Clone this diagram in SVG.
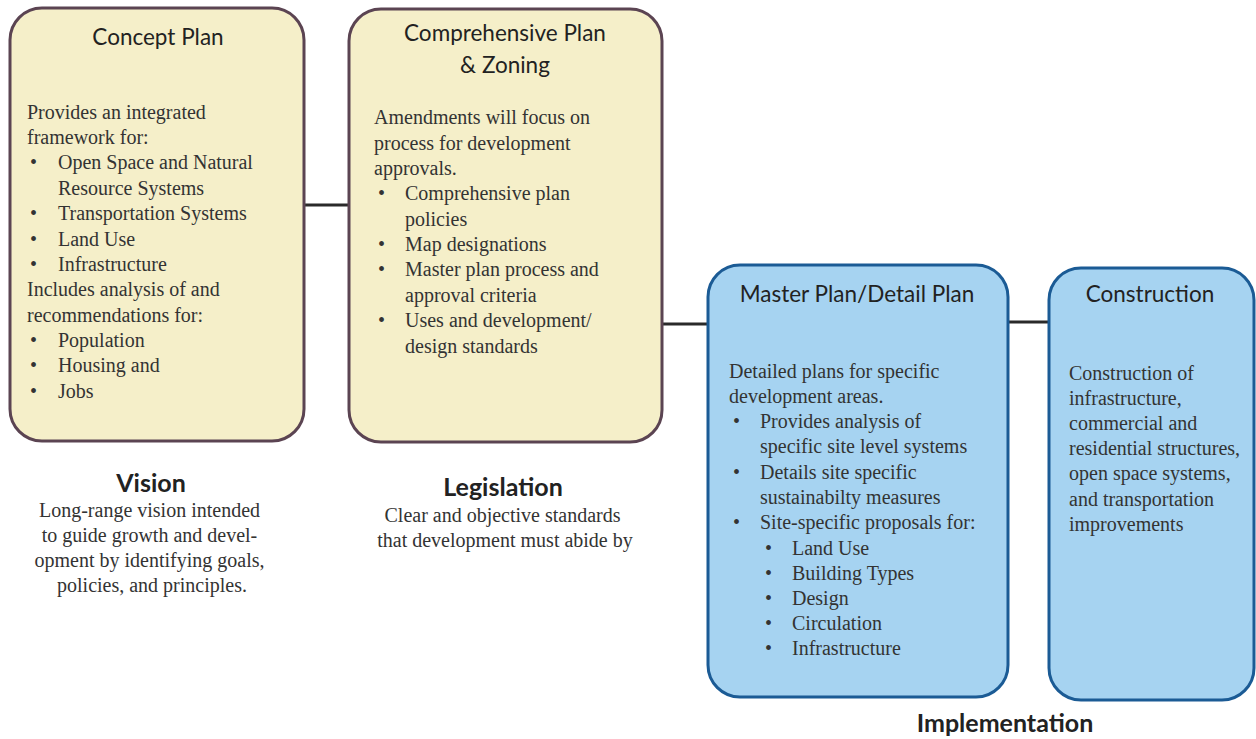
<svg xmlns="http://www.w3.org/2000/svg" width="1256" height="739" viewBox="0 0 1256 739">
<style>
.ybox{fill:#f5efc9;stroke:#5b4452;stroke-width:3}
.bbox{fill:#a6d3f1;stroke:#1b5b95;stroke-width:3}
.title{font-family:Lato,"Open Sans",sans-serif;font-size:22.5px;fill:#222;text-anchor:middle}
.body{font-family:"Liberation Serif","Times New Roman",serif;font-size:20px;fill:#333}
.cap{font-family:Lato,"Open Sans",sans-serif;font-size:25px;font-weight:bold;fill:#222;text-anchor:middle}
.capb{font-family:"Liberation Serif","Times New Roman",serif;font-size:20px;fill:#333;text-anchor:middle}
.conn{stroke:#2a2a2a;stroke-width:3;fill:none}
</style>
<rect width="1256" height="739" fill="#fff"/>
<g id="connectors">
<line class="conn" x1="304" y1="205" x2="349" y2="205"/>
<line class="conn" x1="662" y1="324" x2="708" y2="324"/>
<line class="conn" x1="1008" y1="322" x2="1049" y2="322"/>
</g>
<g id="concept-plan">
<rect class="ybox" x="10" y="8" width="294" height="433" rx="32"/>
<text class="title" x="158" y="45">Concept Plan</text>
<text class="body">
<tspan x="27" y="119">Provides an integrated</tspan>
<tspan x="27" y="144">framework for:</tspan>
<tspan x="30" y="169">•</tspan><tspan x="58" y="169">Open Space and Natural</tspan>
<tspan x="58" y="195">Resource Systems</tspan>
<tspan x="30" y="220">•</tspan><tspan x="58" y="220">Transportation Systems</tspan>
<tspan x="30" y="246">•</tspan><tspan x="58" y="246">Land Use</tspan>
<tspan x="30" y="271">•</tspan><tspan x="58" y="271">Infrastructure</tspan>
<tspan x="27" y="296">Includes analysis of and</tspan>
<tspan x="27" y="322">recommendations for:</tspan>
<tspan x="30" y="347">•</tspan><tspan x="58" y="347">Population</tspan>
<tspan x="30" y="372">•</tspan><tspan x="58" y="372">Housing and</tspan>
<tspan x="30" y="398">•</tspan><tspan x="58" y="398">Jobs</tspan>
</text>
</g>
<g id="comprehensive-plan">
<rect class="ybox" x="349" y="9" width="313" height="433" rx="32"/>
<text class="title" x="505" y="41">Comprehensive Plan</text>
<text class="title" x="505" y="73">&amp; Zoning</text>
<text class="body">
<tspan x="374" y="124">Amendments will focus on</tspan>
<tspan x="374" y="150">process for development</tspan>
<tspan x="374" y="175">approvals.</tspan>
<tspan x="378" y="200">•</tspan><tspan x="405" y="200">Comprehensive plan</tspan>
<tspan x="405" y="226">policies</tspan>
<tspan x="378" y="251">•</tspan><tspan x="405" y="251">Map designations</tspan>
<tspan x="378" y="276">•</tspan><tspan x="405" y="276">Master plan process and</tspan>
<tspan x="405" y="302">approval criteria</tspan>
<tspan x="378" y="327">•</tspan><tspan x="405" y="327">Uses and development/</tspan>
<tspan x="405" y="353">design standards</tspan>
</text>
</g>
<g id="master-plan">
<rect class="bbox" x="708" y="265" width="300" height="432" rx="32"/>
<text class="title" x="857" y="302">Master Plan/Detail Plan</text>
<text class="body">
<tspan x="729" y="378">Detailed plans for specific</tspan>
<tspan x="729" y="403">development areas.</tspan>
<tspan x="733" y="428">•</tspan><tspan x="760" y="428">Provides analysis of</tspan>
<tspan x="760" y="453">specific site level systems</tspan>
<tspan x="733" y="479">•</tspan><tspan x="760" y="479">Details site specific</tspan>
<tspan x="760" y="504">sustainabilty measures</tspan>
<tspan x="733" y="529">•</tspan><tspan x="760" y="529">Site-specific proposals for:</tspan>
<tspan x="765" y="555">•</tspan><tspan x="792" y="555">Land Use</tspan>
<tspan x="765" y="580">•</tspan><tspan x="792" y="580">Building Types</tspan>
<tspan x="765" y="605">•</tspan><tspan x="792" y="605">Design</tspan>
<tspan x="765" y="630">•</tspan><tspan x="792" y="630">Circulation</tspan>
<tspan x="765" y="655">•</tspan><tspan x="792" y="655">Infrastructure</tspan>
</text>
</g>
<g id="construction">
<rect class="bbox" x="1049" y="268" width="205" height="432" rx="32"/>
<text class="title" x="1150" y="302">Construction</text>
<text class="body">
<tspan x="1069" y="380">Construction of</tspan>
<tspan x="1069" y="405">infrastructure,</tspan>
<tspan x="1069" y="430">commercial and</tspan>
<tspan x="1069" y="455">residential structures,</tspan>
<tspan x="1069" y="480">open space systems,</tspan>
<tspan x="1069" y="506">and transportation</tspan>
<tspan x="1069" y="531">improvements</tspan>
</text>
</g>
<g id="vision">
<text class="cap" x="151" y="492">Vision</text>
<text class="capb">
<tspan x="152" y="517">Long-range vision intended</tspan>
<tspan x="152" y="542">to guide growth and devel-</tspan>
<tspan x="152" y="567">opment by identifying goals,</tspan>
<tspan x="152" y="592">policies, and principles.</tspan>
</text>
</g>
<g id="legislation">
<text class="cap" x="503" y="496">Legislation</text>
<text class="capb">
<tspan x="505" y="522">Clear and objective standards</tspan>
<tspan x="505" y="547">that development must abide by</tspan>
</text>
</g>
<g id="implementation">
<text class="cap" x="1005" y="732">Implementation</text>
</g>
</svg>
